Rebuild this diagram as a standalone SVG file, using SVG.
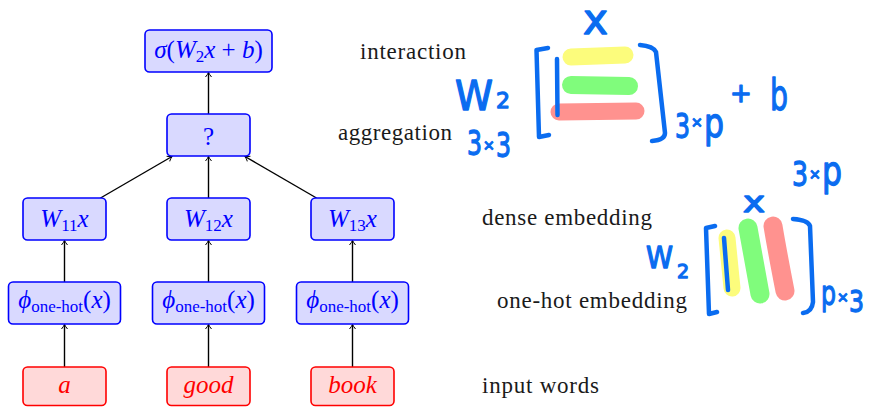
<svg xmlns="http://www.w3.org/2000/svg" width="869" height="407" viewBox="0 0 869 407">
  <style>
    .bnode { fill: #d9d9ff; stroke: #0000ff; stroke-width: 1.6; }
    .rnode { fill: #ffd9d9; stroke: #ff0000; stroke-width: 1.6; }
    .math { font-family: "Liberation Serif", "DejaVu Serif", serif; font-size: 25px; fill: #0000ff; text-anchor: middle; }
    .word { font-family: "Liberation Serif", "DejaVu Serif", serif; font-size: 25px; font-style: italic; fill: #ff0000; text-anchor: middle; }
    .it { font-style: italic; }
    .label { font-family: "Liberation Serif", "DejaVu Serif", serif; font-size: 23px; fill: #1a1a1a; }
    .edge { stroke: #000; stroke-width: 1.4; fill: none; marker-end: url(#tip); }
    .ink { fill: none; stroke: #0a6cf0; stroke-width: 4.5; stroke-linecap: round; stroke-linejoin: round; }
    .hand { font-family: "DejaVu Sans", "Liberation Sans", sans-serif; fill: #0a6cf0; stroke: #0a6cf0; stroke-width: 1.3; stroke-linejoin: round; }
    .hl { fill: none; stroke-linecap: round; }
  </style>
  <defs>
    <marker id="tip" viewBox="-6 -4 7 8" refX="0" refY="0" markerWidth="7" markerHeight="8" orient="auto" markerUnits="userSpaceOnUse">
      <path d="M-4.5,-3 Q-1.5,-0.6 0,0 Q-1.5,0.6 -4.5,3" fill="none" stroke="#000" stroke-width="1"/>
    </marker>
  </defs>

  <rect width="869" height="407" fill="#ffffff"/>

  <!-- connectors -->
  <g id="edges">
    <line class="edge" x1="64.5" y1="367" x2="64.5" y2="324.5"/>
    <line class="edge" x1="208.5" y1="367" x2="208.5" y2="324.5"/>
    <line class="edge" x1="352.5" y1="367" x2="352.5" y2="324.5"/>
    <line class="edge" x1="64.5" y1="282" x2="64.5" y2="240.5"/>
    <line class="edge" x1="208.5" y1="282" x2="208.5" y2="240.5"/>
    <line class="edge" x1="352.5" y1="282" x2="352.5" y2="240.5"/>
    <line class="edge" x1="100.5" y1="198" x2="172" y2="156.5"/>
    <line class="edge" x1="208.5" y1="198" x2="208.5" y2="156.5"/>
    <line class="edge" x1="316.5" y1="198" x2="245" y2="156.5"/>
    <line class="edge" x1="208.5" y1="114" x2="208.5" y2="72.5"/>
  </g>

  <!-- interaction node -->
  <g id="interaction">
    <rect class="bnode" x="145" y="30" width="127" height="42" rx="4.5"/>
    <text class="math" x="208.5" y="58"><tspan class="it">σ</tspan>(<tspan class="it">W</tspan><tspan font-size="17" dy="4">2</tspan><tspan class="it" dy="-4">x</tspan> + <tspan class="it">b</tspan>)</text>
  </g>

  <!-- aggregation node -->
  <g id="aggregation">
    <rect class="bnode" x="167" y="114" width="83" height="42" rx="4.5"/>
    <text class="math" x="208.5" y="145">?</text>
  </g>

  <!-- dense embeddings -->
  <g id="dense1">
    <rect class="bnode" x="23" y="198" width="83" height="42" rx="4.5"/>
    <text class="math" x="64.5" y="227"><tspan class="it">W</tspan><tspan font-size="17" dy="4">11</tspan><tspan class="it" dy="-4">x</tspan></text>
  </g>
  <g id="dense2">
    <rect class="bnode" x="167" y="198" width="83" height="42" rx="4.5"/>
    <text class="math" x="208.5" y="227"><tspan class="it">W</tspan><tspan font-size="17" dy="4">12</tspan><tspan class="it" dy="-4">x</tspan></text>
  </g>
  <g id="dense3">
    <rect class="bnode" x="311" y="198" width="83" height="42" rx="4.5"/>
    <text class="math" x="352.5" y="227"><tspan class="it">W</tspan><tspan font-size="17" dy="4">13</tspan><tspan class="it" dy="-4">x</tspan></text>
  </g>

  <!-- one-hot embeddings -->
  <g id="onehot1">
    <rect class="bnode" x="8.5" y="282" width="112" height="42" rx="4.5"/>
    <text class="math" x="64.5" y="308"><tspan class="it">ϕ</tspan><tspan font-size="17" dy="4">one-hot</tspan><tspan dy="-4">(</tspan><tspan class="it">x</tspan>)</text>
  </g>
  <g id="onehot2">
    <rect class="bnode" x="152.5" y="282" width="112" height="42" rx="4.5"/>
    <text class="math" x="208.5" y="308"><tspan class="it">ϕ</tspan><tspan font-size="17" dy="4">one-hot</tspan><tspan dy="-4">(</tspan><tspan class="it">x</tspan>)</text>
  </g>
  <g id="onehot3">
    <rect class="bnode" x="296.5" y="282" width="112" height="42" rx="4.5"/>
    <text class="math" x="352.5" y="308"><tspan class="it">ϕ</tspan><tspan font-size="17" dy="4">one-hot</tspan><tspan dy="-4">(</tspan><tspan class="it">x</tspan>)</text>
  </g>

  <!-- input words -->
  <g id="word1">
    <rect class="rnode" x="23" y="367" width="83" height="38.5" rx="4.5"/>
    <text class="word" x="64.5" y="393">a</text>
  </g>
  <g id="word2">
    <rect class="rnode" x="167" y="367" width="83" height="38.5" rx="4.5"/>
    <text class="word" x="208.5" y="393">good</text>
  </g>
  <g id="word3">
    <rect class="rnode" x="311" y="367" width="83" height="38.5" rx="4.5"/>
    <text class="word" x="352.5" y="393">book</text>
  </g>

  <!-- layer captions -->
  <g id="captions">
    <text class="label" x="360" y="59" textLength="106">interaction</text>
    <text class="label" x="338" y="140" textLength="114">aggregation</text>
    <text class="label" x="482" y="225" textLength="170">dense embedding</text>
    <text class="label" x="497" y="308" textLength="190">one-hot embedding</text>
    <text class="label" x="482" y="393" textLength="117">input words</text>
  </g>

  <!-- notes: W2 times stacked rows -->
  <g id="note-rows">
    <path class="hl" d="M571,57 L625,55" stroke="#fcfc7c" stroke-width="17"/>
    <path class="hl" d="M571,85 L629,86" stroke="#80fc7c" stroke-width="18"/>
    <path class="hl" d="M559,112 L636,111" stroke="#ff928f" stroke-width="17"/>
    <path class="ink" d="M557,59 L557.5,115"/>
    <path class="ink" d="M548,48 L536.5,50 L539,137 L549,135"/>
    <path class="ink" d="M640,45 Q653,46 656,52 L665,133 Q665,140 652,141"/>
    <text class="hand" x="583" y="34" font-size="42" textLength="25" lengthAdjust="spacingAndGlyphs">x</text>
    <text class="hand" x="455" y="110" font-size="41"><tspan textLength="38" lengthAdjust="spacingAndGlyphs">W</tspan><tspan x="496" y="108" font-size="22">2</tspan></text>
    <text class="hand" x="467" y="155" font-size="33"><tspan textLength="15" lengthAdjust="spacingAndGlyphs">3</tspan><tspan x="483" y="150" font-size="14">×</tspan><tspan x="496" y="157" textLength="15" lengthAdjust="spacingAndGlyphs">3</tspan></text>
    <text class="hand" x="675" y="138" font-size="33"><tspan textLength="15" lengthAdjust="spacingAndGlyphs">3</tspan><tspan x="691" y="127" font-size="14">×</tspan><tspan x="704" y="137" font-size="40" textLength="20" lengthAdjust="spacingAndGlyphs">p</tspan></text>
    <text class="hand" x="730" y="102" font-size="26">+<tspan x="770" y="110" font-size="43" textLength="18" lengthAdjust="spacingAndGlyphs">b</tspan></text>
  </g>

  <!-- notes: W2 times side-by-side columns -->
  <g id="note-cols">
    <path class="hl" d="M727,238 L732,288" stroke="#fcfc7c" stroke-width="17"/>
    <path class="hl" d="M748,228 L760,294" stroke="#80fc7c" stroke-width="19"/>
    <path class="hl" d="M773,226 Q777,250 785,291" stroke="#ff928f" stroke-width="19"/>
    <path class="ink" d="M724,238 L728,290"/>
    <path class="ink" d="M715,226 L706,228 L709,314 L717,312"/>
    <path class="ink" d="M793,219 Q808,220 810,226 L813,302 Q812,312 803,313"/>
    <text class="hand" x="792" y="186" font-size="34"><tspan textLength="16" lengthAdjust="spacingAndGlyphs">3</tspan><tspan x="809" y="179" font-size="14">×</tspan><tspan x="822" y="185" font-size="40" textLength="20" lengthAdjust="spacingAndGlyphs">p</tspan></text>
    <text class="hand" x="743" y="212" font-size="28" textLength="22" lengthAdjust="spacingAndGlyphs">x</text>
    <text class="hand" x="646" y="268" font-size="30"><tspan textLength="27" lengthAdjust="spacingAndGlyphs">W</tspan><tspan x="677" y="278" font-size="19">2</tspan></text>
    <text class="hand" x="821" y="305" font-size="34"><tspan textLength="15" lengthAdjust="spacingAndGlyphs">p</tspan><tspan x="837" y="302" font-size="14">×</tspan><tspan x="849" y="312" font-size="31" textLength="15" lengthAdjust="spacingAndGlyphs">3</tspan></text>
  </g>
</svg>
